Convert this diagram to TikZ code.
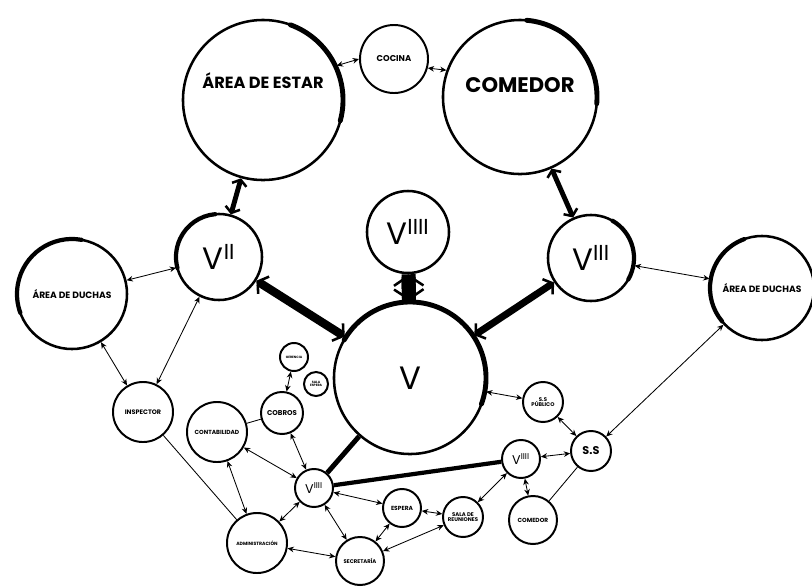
\documentclass[tikz,border=0pt]{standalone}
\usepackage{fontspec}
\setmainfont{Poppins}
\usetikzlibrary{arrows.meta}

\newcommand{\fs}[1]{\fontsize{#1}{#1}\selectfont}

\begin{document}
\begin{tikzpicture}[
  x=0.025cm, y=-0.025cm,
  >=Stealth,
  room/.style={circle, draw, line width=1.4pt, inner sep=0pt,
    minimum size=#1*0.05cm, align=center},
  big/.style={line width=1.8pt},
  tag/.style={font=\bfseries\fs{#1}},
  vtag/.style={font=\fs{#1}},
  heavy/.style={line width=#1, line cap=round},
  link/.style={<->, line width=0.6pt,
    >={Stealth[length=4.5pt,width=4pt]}},
  bond/.style={<->, line width=#1,
    >={Straight Barb[length=2pt 0.5,width=5pt 1.6,line width=1.8pt]}}
]
\useasboundingbox (0,0) rectangle (812,587);

%--------------------
% 上段
%--------------------
\node[room=80, big, tag=11.5] (estar) at (263,100)
  {\raisebox{8pt}[0pt][0pt]{ÁREA DE ESTAR}};
\node[room=34, tag=6] (cocina) at (394,59) {COCINA};
\node[room=77, big, tag=15] (comedor) at (520,97)
  {\raisebox{3pt}[0pt][0pt]{COMEDOR}};

%--------------------
% 中段
%--------------------
\node[room=43, big, vtag=22] (vdos) at (219,257) {V\textsuperscript{II}};
\node[room=41, big, vtag=22] (vcuatro) at (408,232) {V\textsuperscript{IIII}};
\node[room=43, big, vtag=22] (vtres) at (591,258) {V\textsuperscript{III}};
\node[room=55, big, tag=6.5] (duchasizq) at (72,294) {ÁREA DE DUCHAS};
\node[room=52, big, tag=6.5] (duchasder) at (762,288) {ÁREA DE DUCHAS};
\node[room=76, big, vtag=23] (vmain) at (410,378) {V};

% 太い縁
\draw[heavy=3.5pt] (estar.center) ++(70:2cm) arc[start angle=70, end angle=-15, radius=2cm];
\draw[heavy=3.5pt] (comedor.center) ++(85:1.925cm) arc[start angle=85, end angle=-5, radius=1.925cm];
\draw[heavy=3pt] (vdos.center) ++(95:1.075cm) arc[start angle=95, end angle=195, radius=1.075cm];
\draw[heavy=3pt] (vtres.center) ++(60:1.075cm) arc[start angle=60, end angle=-30, radius=1.075cm];
\draw[heavy=3pt] (duchasizq.center) ++(80:1.375cm) arc[start angle=80, end angle=200, radius=1.375cm];
\draw[heavy=3pt] (duchasder.center) ++(110:1.3cm) arc[start angle=110, end angle=220, radius=1.3cm];
\draw[heavy=3.5pt] (vmain.center) ++(150:1.9cm) arc[start angle=150, end angle=-20, radius=1.9cm];

%--------------------
% 下段（左）
%--------------------
\node[room=30, tag=4.6] (inspector) at (143,412) {INSPECTOR};
\node[room=14, tag=2.3] (gerencia) at (294,357) {GERENCIA};
\node[room=12, tag=2.3] (salaesp) at (316,384) {SALA\\ESPERA};
\node[room=21, tag=5] (cobros) at (282,413) {COBROS};
\node[room=30, tag=4.2] (contab) at (217,432) {CONTABILIDAD};
\node[room=19, vtag=9] (vcinco) at (314,488) {V\textsuperscript{IIII}};
\node[room=30, tag=3.3] (admin) at (257,543) {ADMINISTRACIÓN};
\node[room=24, tag=3.8] (secret) at (360,561) {SECRETARÍA};
\node[room=19, tag=4.2] (espera) at (402,508) {ESPERA};
\node[room=20, tag=3.8] (reuniones) at (463,517) {SALA DE\\REUNIONES};

%--------------------
% 下段（右）
%--------------------
\node[room=20, tag=3.8] (sspub) at (543,402) {S.S\\PÚBLICO};
\node[room=20, tag=8] (ss) at (591,451) {S.S};
\node[room=19, vtag=9] (vseis) at (521,459) {V\textsuperscript{IIII}};
\node[room=24, tag=4.2] (comedorb) at (533,520) {COMEDOR};

% 太い接続
\draw[bond=3.5pt] (estar) -- (vdos);
\draw[bond=3.5pt] (comedor) -- (vtres);
\draw[line width=10pt] (vcuatro) -- (vmain);
\draw[bond=10pt] (vcuatro) -- (vmain);
\draw[bond=6pt] (vdos) -- (vmain);
\draw[bond=5pt] (vtres) -- (vmain);
\draw[line width=3.5pt] (vmain) -- (vcinco);
\draw[line width=3pt] (vcinco) -- (vseis);

% 細い接続
\draw[link] (cocina.west) -- (estar.25);
\draw[link] (cocina.-15) -- (comedor.160);
\draw[link] (duchasizq) -- (vdos);
\draw[link] (duchasizq) -- (inspector);
\draw[link] (inspector) -- (vdos);
\draw[link] (vtres) -- (duchasder);
\draw[link] (duchasder) -- (ss);
\draw[link] (vmain) -- (sspub);
\draw[link] (sspub) -- (ss);
\draw[link] (ss) -- (vseis);
\draw[line width=0.6pt] (ss) -- (comedorb);
\draw[link] (vseis) -- (comedorb);
\draw[link] (vseis) -- (reuniones);
\draw[link] (gerencia) -- (cobros);
\draw[line width=0.6pt] (cobros) -- (contab);
\draw[link] (cobros) -- (vcinco);
\draw[link] (contab) -- (vcinco);
\draw[link] (contab) -- (admin);
\draw[line width=0.6pt] (inspector) -- (admin);
\draw[link] (admin) -- (vcinco);
\draw[link] (admin) -- (secret);
\draw[link] (vcinco) -- (secret);
\draw[link] (vcinco) -- (espera);
\draw[link] (espera) -- (secret);
\draw[link] (espera) -- (reuniones);
\draw[link] (reuniones) -- (secret);

\end{tikzpicture}
\end{document}
